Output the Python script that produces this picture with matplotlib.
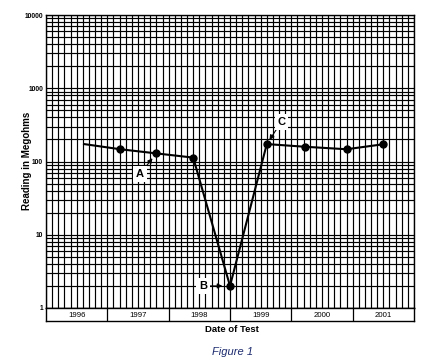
import matplotlib
matplotlib.use('Agg')
import matplotlib.pyplot as plt
import numpy as np

plt.rcParams['font.family'] = ['Liberation Sans', 'DejaVu Sans']

# ---- data ----
test_dates = [1996.62, 1997.21, 1997.80, 1998.40, 1999.00, 1999.60, 2000.22, 2000.90, 2001.50]
readings = [173, 147, 129, 113, 2.0, 173, 159, 147, 172]
year_labels = ['1996', '1997', '1998', '1999', '2000', '2001']
y_ticks = [1, 10, 100, 1000, 10000]
y_tick_labels = ['1', '10', '100', '1000', '10000']
annot_labels = ['A', 'B', 'C']
annot_index = [2, 4, 5]

W, H = 423, 363
fig = plt.figure(figsize=(W / 100, H / 100), dpi=100)
fig.patch.set_facecolor('white')

ax = fig.add_axes([46 / W, 1 - 308 / H, 368 / W, 293 / H])
ax.set_yscale('log')
ax.set_ylim(1, 10000)
x0 = int(year_labels[0])
nyears = len(year_labels)
ax.set_xlim(x0, x0 + nyears)
ax.set_xticks(np.arange(x0, x0 + nyears + 0.001, 1))
ax.set_xticks(np.arange(x0, x0 + nyears + 0.001, 0.1), minor=True)
ax.set_yticks(y_ticks)
ax.set_yticklabels(y_tick_labels)
ax.grid(which='both', axis='both', color='black', lw=0.85)
ax.tick_params(which='both', length=0, labelbottom=False, pad=2)
for lab in ax.get_yticklabels():
    lab.set_fontsize(4.8)
    lab.set_fontweight('bold')
for s in ax.spines.values():
    s.set_color('black')
    s.set_linewidth(1.0)

ax.plot(test_dates, readings, color='black', lw=1.5, zorder=4, clip_on=False)
ax.plot(test_dates[1:], readings[1:], 'o', color='black', ms=5, zorder=5, clip_on=False)

offsets = {'A': (-12, -15), 'B': (-19.5, 0), 'C': (10.5, 16)}
shrinks = {'A': 4.5, 'B': 5.5, 'C': 3.5}
for lab, idx in zip(annot_labels, annot_index):
    ax.annotate(lab, xy=(test_dates[idx], readings[idx]), xytext=offsets[lab],
                textcoords='offset points', ha='center', va='center',
                fontsize=8, fontweight='bold', zorder=6,
                bbox=dict(boxstyle='square,pad=0.25', fc='white', ec='none'),
                arrowprops=dict(arrowstyle='-|>,head_length=0.35,head_width=0.18',
                                color='black', lw=0.8, shrinkA=0, shrinkB=shrinks[lab]))

# year row
axy = fig.add_axes([46 / W, 1 - 321 / H, 368 / W, 13 / H])
axy.set_xlim(x0, x0 + nyears)
axy.set_ylim(0, 1)
axy.set_xticks([])
axy.set_yticks([])
for s in axy.spines.values():
    s.set_color('black')
    s.set_linewidth(1.0)
for i in range(1, nyears):
    axy.axvline(x0 + i, color='black', lw=0.9)
for i, lab in enumerate(year_labels):
    axy.text(x0 + i + 0.5, 0.45, lab, ha='center', va='center', fontsize=5.6)

fig.text(27 / W, 1 - 161 / H, 'Reading in Megohms', rotation=90, ha='center', va='center',
         fontsize=7, fontweight='bold')
fig.text(232 / W, 1 - 330 / H, 'Date of Test', ha='center', va='center',
         fontsize=6.8, fontweight='bold')
fig.text(233 / W, 1 - 352 / H, 'Figure 1', ha='center', va='center',
         fontsize=8, style='italic', color='#1c2a6e')

fig.savefig('out.png', dpi=100)
